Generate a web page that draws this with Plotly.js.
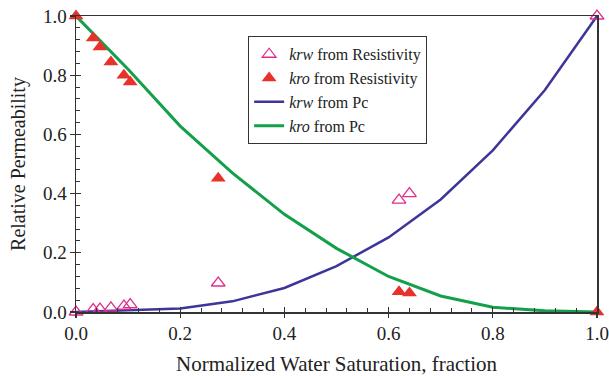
<!DOCTYPE html>
<html><head><meta charset="utf-8">
<script src="https://cdn.plot.ly/plotly-3.0.1.min.js"></script>
<style>body{margin:0;background:#fff}#chart{width:609px;height:376px}</style>
</head><body><div id="chart"></div>
<script>
var swRes = [0, 0.033, 0.046, 0.067, 0.092, 0.104, 0.273, 0.62, 0.64, 1.0];
var krwRes = [0.0, 0.008, 0.01, 0.014, 0.02, 0.025, 0.098, 0.378, 0.40, 1.0];
var kroRes = [1.0, 0.926, 0.895, 0.845, 0.80, 0.777, 0.452, 0.068, 0.064, 0.0];
var swPc = [0, 0.1, 0.2, 0.3, 0.4, 0.5, 0.6, 0.7, 0.8, 0.9, 1.0];
var krwPc = [0, 0.005, 0.012, 0.036, 0.081, 0.155, 0.252, 0.38, 0.546, 0.75, 1.0];
var kroPc = [1.0, 0.82, 0.628, 0.47, 0.33, 0.215, 0.12, 0.054, 0.016, 0.004, 0.0];
var tickVals = [0, 0.2, 0.4, 0.6, 0.8, 1.0];
var tickText = ['0.0', '0.2', '0.4', '0.6', '0.8', '1.0'];

var FONT = "'Liberation Serif'";
var traces = [
  {x: swPc, y: krwPc, mode: 'lines', name: '<i>krw</i> from Pc', legendrank: 3,
   line: {color: '#3d3599', width: 2.5}},
  {x: swPc, y: kroPc, mode: 'lines', name: '<i>kro</i> from Pc', legendrank: 4,
   line: {color: '#14a04b', width: 3}},
  {x: swRes, y: krwRes, mode: 'markers', name: '<i>krw</i> from Resistivity', legendrank: 1,
   marker: {symbol: 'triangle-up-open', size: 12, color: '#e0308a', line: {width: 1.3}}, cliponaxis: false},
  {x: swRes, y: kroRes, mode: 'markers', name: '<i>kro</i> from Resistivity', legendrank: 2,
   marker: {symbol: 'triangle-up', size: 13, color: '#e8312a'}, cliponaxis: false},
  {x: [], y: [], xaxis: 'x2', yaxis: 'y2', mode: 'markers', showlegend: false, hoverinfo: 'skip'}
];

var axisCommon = {
  range: [0, 1], tickvals: tickVals, ticktext: tickText,
  ticks: 'inside', ticklen: 5, tickcolor: '#333', tickwidth: 1.2,
  minor: {dtick: 0.04, ticks: 'inside', ticklen: 4, tickcolor: '#333', tickwidth: 1},
  showgrid: false, zeroline: false, showline: true, linecolor: '#333', linewidth: 1.5, mirror: true,
  tickfont: {size: 19, family: FONT, color: '#222'}, ticklabelstandoff: 4
};
var outerTicks = {
  range: [0, 1], tickvals: tickVals, showticklabels: false,
  ticks: 'outside', ticklen: 5, tickcolor: '#333', tickwidth: 1.2,
  showgrid: false, zeroline: false, showline: false
};
var layout = {
  width: 609, height: 376,
  margin: {l: 76, r: 12, t: 16, b: 64},
  paper_bgcolor: '#fff', plot_bgcolor: '#fff',
  font: {family: FONT, color: '#222'},
  showlegend: true,
  legend: {x: 0.33, y: 0.932, xanchor: 'left', yanchor: 'top', bordercolor: '#333', borderwidth: 1.2,
    bgcolor: '#fff', font: {size: 16, family: FONT, color: '#222'}, tracegroupgap: 0},
  xaxis: Object.assign({}, axisCommon, {title: {text: 'Normalized Water Saturation, fraction', font: {size: 21, family: FONT}, standoff: 13}}),
  yaxis: Object.assign({}, axisCommon, {title: {text: 'Relative Permeability', font: {size: 20, family: FONT}, standoff: 12}}),
  xaxis2: Object.assign({}, outerTicks, {overlaying: 'x', anchor: 'y'}),
  yaxis2: Object.assign({}, outerTicks, {overlaying: 'y', anchor: 'x'})
};
Plotly.newPlot('chart', traces, layout, {displayModeBar: false, staticPlot: true});
</script></body></html>
